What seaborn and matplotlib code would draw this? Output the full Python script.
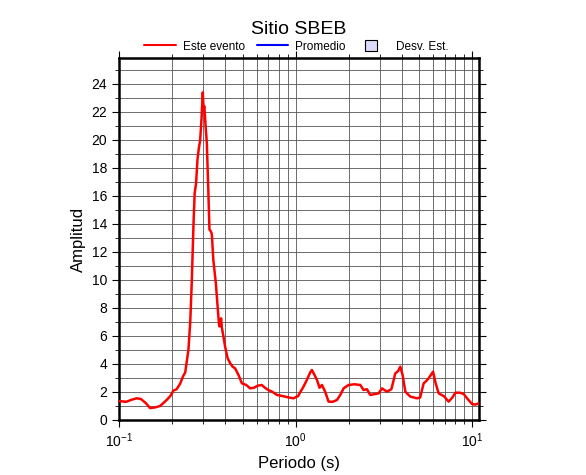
import matplotlib
matplotlib.use("Agg")
import numpy as np
import pandas as pd
import seaborn as sns
import matplotlib.pyplot as plt
from matplotlib.lines import Line2D
from matplotlib.patches import Patch, Rectangle
from matplotlib.legend_handler import HandlerPatch
from matplotlib.ticker import MultipleLocator, LogLocator

# espectro del evento (periodo en s, amplitud)
periodo = [0.100, 0.110, 0.118, 0.126, 0.133, 0.142, 0.150, 0.160, 0.171, 0.185,
           0.195, 0.203, 0.212, 0.222, 0.230, 0.237, 0.242, 0.247, 0.253, 0.258,
           0.264, 0.268, 0.273, 0.278, 0.283, 0.288, 0.293, 0.298, 0.301, 0.304,
           0.309, 0.314, 0.320, 0.325, 0.330, 0.335, 0.342, 0.353, 0.365, 0.369,
           0.374, 0.378, 0.382, 0.390, 0.399, 0.412, 0.426, 0.440, 0.454, 0.475,
           0.496, 0.525, 0.552, 0.580, 0.610, 0.643, 0.670, 0.701, 0.740, 0.783,
           0.850, 0.920, 0.972, 1.030, 1.107, 1.160, 1.208, 1.235, 1.280, 1.319,
           1.365, 1.408, 1.470, 1.534, 1.620, 1.712, 1.790, 1.866, 1.992, 2.150,
           2.320, 2.422, 2.530, 2.643, 2.800, 2.945, 3.079, 3.286, 3.480, 3.662,
           3.800, 3.909, 4.030, 4.173, 4.454, 4.861, 5.060, 5.299, 5.500, 5.656,
           5.991, 6.200, 6.445, 6.900, 7.338, 7.700, 8.012, 8.500, 8.926, 9.400,
           9.961, 10.400, 10.860]
amplitud = [1.35, 1.30, 1.45, 1.55, 1.50, 1.20, 0.85, 0.90, 1.00, 1.40,
            1.70, 2.10, 2.20, 2.60, 3.10, 3.40, 4.20, 5.00, 7.00, 9.80,
            14.0, 16.2, 16.9, 18.6, 19.4, 20.0, 21.5, 23.4, 22.2, 22.4,
            21.0, 19.8, 16.5, 13.6, 13.5, 13.3, 11.4, 9.80, 7.40, 6.70,
            6.70, 7.26, 6.60, 5.95, 5.20, 4.40, 4.05, 3.80, 3.69, 3.20,
            2.62, 2.50, 2.26, 2.30, 2.45, 2.50, 2.30, 2.14, 2.00, 1.79,
            1.70, 1.60, 1.55, 1.70, 2.38, 2.90, 3.40, 3.57, 3.20, 2.86,
            2.30, 2.50, 2.00, 1.31, 1.30, 1.43, 1.80, 2.26, 2.50, 2.55,
            2.50, 2.14, 2.20, 1.79, 1.85, 1.90, 2.26, 2.02, 2.20, 3.33,
            3.50, 3.81, 3.20, 2.02, 1.67, 1.55, 1.60, 2.62, 2.80, 2.98,
            3.45, 2.60, 1.90, 1.70, 1.31, 1.60, 1.95, 1.95, 1.86, 1.50,
            1.14, 1.10, 1.19]

df = pd.DataFrame({"periodo": periodo, "amplitud": amplitud})

sns.set_style("ticks")
plt.rcParams['font.family'] = ['Liberation Sans', 'DejaVu Sans']
for k in ["text.color", "axes.labelcolor", "xtick.color", "ytick.color", "axes.edgecolor"]:
    plt.rcParams[k] = "black"


def square_box(legend, orig_handle, xdescent, ydescent, width, height, fontsize):
    s = 8.5
    return Rectangle((-xdescent + width - s - 9, -ydescent + height / 2 - s / 2), s, s)


fig = plt.figure(figsize=(5.86, 4.75), dpi=100)
ax = fig.add_axes([0.2031, 0.1158, 0.6143, 0.7621])

sns.lineplot(data=df, x="periodo", y="amplitud", color="red", linewidth=1.8, ax=ax, zorder=3)

ax.set_xscale("log")
ax.set_xlim(0.1, 10.9)
ax.set_ylim(0, 25.85)
ax.yaxis.set_major_locator(MultipleLocator(2))
ax.yaxis.set_minor_locator(MultipleLocator(1))
ax.xaxis.set_major_locator(LogLocator(base=10))
ax.xaxis.set_minor_locator(LogLocator(base=10, subs=np.arange(2, 10)))

ax.grid(True, which="both", color="#555555", linewidth=0.6)
ax.tick_params(which="both", direction="out", top=True, right=True, labeltop=False,
               labelright=False, labelsize=10)
ax.tick_params(which="major", length=5, width=0.8)
ax.tick_params(which="minor", length=3, width=0.6)
for s in ax.spines.values():
    s.set_linewidth(1.8)

ax.set_xlabel("Periodo (s)", fontsize=12)
ax.set_ylabel("Amplitud", fontsize=12)
ax.set_title("Sitio SBEB", fontsize=14, pad=17)

desv = Patch(facecolor="#dcdcfa", edgecolor="black", lw=0.8)
handles = [Line2D([], [], color="red", lw=1.5),
           Line2D([], [], color="blue", lw=1.5),
           desv]
fig.legend(handles, ["Este evento", "Promedio", "Desv. Est."], loc="center",
           bbox_to_anchor=(0.506, 0.902), ncol=3, frameon=False, fontsize=8.5,
           handlelength=2.7, columnspacing=0.95, handletextpad=0.6,
           handler_map={desv: HandlerPatch(patch_func=square_box)})

plt.savefig("out.png", dpi=100)
